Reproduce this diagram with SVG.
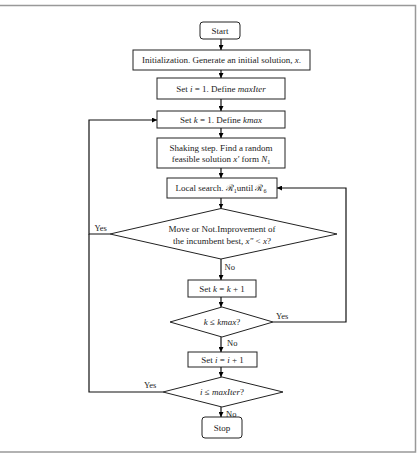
<svg xmlns="http://www.w3.org/2000/svg" width="419" height="456" viewBox="0 0 419 456">
<defs>
<marker id="ah" viewBox="0 0 10 10" refX="10" refY="5" markerWidth="5" markerHeight="5" orient="auto" markerUnits="userSpaceOnUse">
<path d="M0,0 L10,5 L0,10 z" fill="#000"/>
</marker>
<style>
.b{fill:#fff;stroke:#222;stroke-width:1}
.t{font-family:"Liberation Serif","Times New Roman",serif;font-size:9px;fill:#222;text-anchor:middle}
.m{font-style:italic}
.c{fill:none;stroke:#111;stroke-width:1.2}
.a{marker-end:url(#ah)}
.l{font-family:"Liberation Serif","Times New Roman",serif;font-size:8.5px;fill:#222}
</style>
</defs>
<rect x="0" y="0" width="419" height="456" fill="#fff"/>
<path d="M-2,5.5 H415.5 V452 H-2" fill="none" stroke="#999" stroke-width="1.5"/>
<g id="start"><rect class="b" x="200" y="22" width="40" height="17" rx="3"/><text class="t" x="220" y="33.5">Start</text></g>
<g id="init"><rect class="b" x="133" y="50" width="177" height="20"/><text class="t" x="221.5" y="63">Initialization. Generate an initial solution, <tspan class="m">x</tspan>.</text></g>
<g id="seti"><rect class="b" x="157" y="78" width="128" height="21"/><text class="t" x="221" y="91.5">Set <tspan class="m">i</tspan> = 1. Define <tspan class="m">maxIter</tspan></text></g>
<g id="setk"><rect class="b" x="157" y="111" width="128" height="17"/><text class="t" x="221" y="122.5">Set <tspan class="m">k</tspan> = 1. Define <tspan class="m">kmax</tspan></text></g>
<g id="shake"><rect class="b" x="157" y="138" width="128" height="30"/><text class="t" x="221" y="150.5">Shaking step. Find a random</text><text class="t" x="221" y="162">feasible solution <tspan class="m">x′</tspan> form <tspan class="m">N</tspan><tspan font-size="6" dy="1.5">1</tspan></text></g>
<g id="local"><rect class="b" x="167" y="178" width="110" height="20"/><text class="t" x="221" y="191">Local search. ℛ<tspan font-size="6" dy="1.5">1</tspan><tspan dy="-1.5">until ℛ</tspan><tspan font-size="6" dy="1.5">6</tspan></text></g>
<g id="d1"><polygon class="b" points="221,208.5 337,234 221,259 110,234"/><text class="t" x="222" y="231.5">Move or Not.Improvement of</text><text class="t" x="222" y="244">the incumbent best, <tspan class="m">x"</tspan> &lt; <tspan class="m">x</tspan>?</text></g>
<g id="setk1"><rect class="b" x="188" y="280" width="68" height="17"/><text class="t" x="222" y="291.5">Set <tspan class="m">k</tspan> = <tspan class="m">k</tspan> + 1</text></g>
<g id="d2"><polygon class="b" points="222,307 273,322 222,337 170,322"/><text class="t" x="222" y="325"><tspan class="m">k</tspan> ≤ <tspan class="m">kmax</tspan>?</text></g>
<g id="seti1"><rect class="b" x="188" y="352" width="69" height="15"/><text class="t" x="222.5" y="362.5">Set <tspan class="m">i</tspan> = <tspan class="m">i</tspan> + 1</text></g>
<g id="d3"><polygon class="b" points="222,377 283,392 222,407 163,392"/><text class="t" x="222" y="395"><tspan class="m">i</tspan> ≤ <tspan class="m">maxIter</tspan>?</text></g>
<g id="stop"><rect class="b" x="202" y="417" width="40" height="21" rx="3"/><text class="t" x="222" y="430.5">Stop</text></g>
<g id="connectors">
<path class="c a" d="M221,39 V50"/>
<path class="c a" d="M221,70 V78"/>
<path class="c a" d="M221,99 V111"/>
<path class="c a" d="M221,128 V138"/>
<path class="c a" d="M221,168 V178"/>
<path class="c a" d="M221,198 V208.5"/>
<path class="c a" d="M221,259 V280"/>
<path class="c a" d="M221,297 V307"/>
<path class="c a" d="M221,337 V352"/>
<path class="c a" d="M221,367 V377"/>
<path class="c a" d="M221,407 V417"/>
<path class="c a" d="M110,234 H89 V120 H157"/>
<path class="c" d="M163,392 H89 V234"/>
<path class="c a" d="M273,322 H346 V188 H277"/>
</g>
<g id="labels">
<text class="l" x="94.5" y="231">Yes</text>
<text class="l" x="224.5" y="270">No</text>
<text class="l" x="276" y="319">Yes</text>
<text class="l" x="227" y="346">No</text>
<text class="l" x="144" y="388">Yes</text>
<text class="l" x="226" y="417">No</text>
</g>
</svg>
